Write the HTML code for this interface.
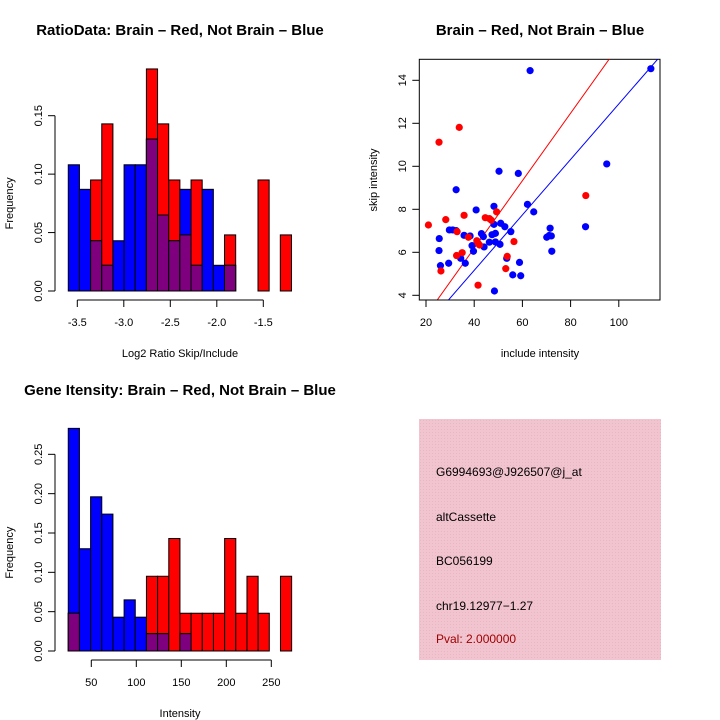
<!DOCTYPE html>
<html><head><meta charset="utf-8">
<style>
html,body{margin:0;padding:0;background:#fff;}
svg{display:block;font-family:"Liberation Sans",Arial,sans-serif;}
</style></head>
<body>
<svg id="chart" width="720" height="720" viewBox="0 0 720 720" xmlns="http://www.w3.org/2000/svg">
<defs>
<pattern id="hatch" width="3" height="3" patternUnits="userSpaceOnUse">
<rect width="3" height="3" fill="#f2c4cf"/>
<rect width="1" height="1" fill="#e6b7c4"/>
</pattern>
</defs>
</svg>
<script>
// ---- Ratio histogram data (frequencies per bin) ----
const ratioBlue = [0.108,0.087,0.043,0.022,0.043,0.108,0.108,0.130,0.065,0.043,0.087,0.022,0.087,0.022,0.022,0,0,0,0,0];
const ratioRed  = [0,0,0.095,0.143,0,0,0,0.190,0.143,0.095,0.048,0.095,0,0,0.048,0,0,0.095,0,0.048];
const ratioBinStart = -3.597, ratioBinWidth = 0.12;
const ratioXTicks = [-3.5,-3.0,-2.5,-2.0,-1.5];
const ratioYTicks = [0,0.05,0.10,0.15];
// ---- Intensity histogram data ----
const intBlue = [0.283,0.130,0.196,0.174,0.043,0.065,0.043,0.022,0.022,0,0.022,0,0,0,0,0,0,0,0,0];
const intRed  = [0.048,0,0,0,0,0,0,0.095,0.095,0.143,0.048,0.048,0.048,0.048,0.143,0.048,0.095,0.048,0,0.095];
const intBinStart = 24.4, intBinWidth = 12.41;
const intXTicks = [50,100,150,200,250];
const intYTicks = [0,0.05,0.10,0.15,0.20,0.25];
// ---- Scatter data ----
const blueX = [63.2,95.0,50.3,58.3,32.5,40.8,48.2,62.1,64.7,86.2,71.5,25.5,25.4,26.0,29.4,29.7,31.1,32.5,35.8,38.3,43.0,43.8,39.1,39.7,44.1,46.3,47.4,48.2,48.8,48.8,50.7,51.0,52.7,55.2,53.5,34.4,36.3,58.8,56.0,59.3,48.4,70.1,71.1,72.0,72.2,113.3];
const blueY = [14.45,10.11,9.77,9.67,8.91,7.97,8.14,8.23,7.88,7.19,7.12,6.64,6.08,5.38,5.49,7.04,7.04,7.01,6.79,6.76,6.87,6.73,6.31,6.05,6.25,6.47,6.82,7.30,6.88,6.48,6.37,7.35,7.19,6.96,5.72,5.72,5.49,5.53,4.95,4.91,4.20,6.70,6.78,6.76,6.05,14.54];
const redX = [25.4,33.8,21.0,28.2,35.8,44.6,46.3,47.1,49.3,32.9,37.6,41.1,41.6,42.2,32.7,35.0,56.5,53.7,53.1,26.2,41.6,86.3];
const redY = [11.12,11.81,7.27,7.52,7.72,7.61,7.57,7.49,7.88,6.96,6.70,6.54,6.42,6.34,5.85,5.98,6.50,5.81,5.24,5.13,4.47,8.64];
const redLine = [-0.09,0.157];   // intercept, slope
const blueLine = [0.0,0.129];
const scXTicks = [20,40,60,80,100];
const scYTicks = [4,6,8,10,12,14];

const svg = document.getElementById('chart');
const NS = 'http://www.w3.org/2000/svg';
function el(tag, attrs, parent){
  const e = document.createElementNS(NS, tag);
  for (const k in attrs) e.setAttribute(k, attrs[k]);
  (parent||svg).appendChild(e);
  return e;
}
function txt(s, attrs, parent){ const t = el('text', attrs, parent); t.textContent = s; return t; }

function histogram(name, blue, red, binStart, binW, xTicks, yTicks, xPx, yPx, y0, axisY, title, titleY, xlab, xlabY, fmtY, fmtX){
  const g = el('g', {});
  
  
  for (let i=0;i<blue.length;i++){
    const xl = xPx(binStart + i*binW), xr = xPx(binStart + (i+1)*binW);
    const b = blue[i], r = red[i];
    const bars = [];
    if (b>0) bars.push({v:b,c:'#0000ff',n:'blue'});
    if (r>0) bars.push({v:r,c:'#ff0000',n:'red'});
    bars.sort((a,c)=>c.v-a.v);
    if (b>0 && r>0) bars.push({v:Math.min(b,r),c:'#7f007f',n:'overlap'});
    bars.forEach(bb=>{
      const rc = el('rect', {x:xl, y:yPx(bb.v), width:xr-xl, height:y0-yPx(bb.v), fill:bb.c, stroke:'#000', 'stroke-width':1}, g);
      
      
    });
  }
  const ya = el('g', {}, g);
  
  
  el('line', {x1:55,x2:55,y1:yPx(yTicks[0]),y2:yPx(yTicks[yTicks.length-1]),stroke:'#000'}, ya);
  yTicks.forEach(t=>{
    el('line',{x1:48,x2:55,y1:yPx(t),y2:yPx(t),stroke:'#000'},ya);
    const lt = txt(fmtY(t), {x:0,y:0,'font-size':11,'text-anchor':'middle',transform:`translate(42,${yPx(t)}) rotate(-90)`}, ya);
    
    
  });
  const xa = el('g', {}, g);
  
  
  el('line', {x1:xPx(xTicks[0]),x2:xPx(xTicks[xTicks.length-1]),y1:axisY,y2:axisY,stroke:'#000'}, xa);
  xTicks.forEach(t=>{
    el('line',{x1:xPx(t),x2:xPx(t),y1:axisY,y2:axisY+7,stroke:'#000'},xa);
    const lt = txt(fmtX(t), {x:xPx(t),y:axisY+26,'font-size':11,'text-anchor':'middle'}, xa);
    
    
  });
  const tt = txt(title, {x:180,y:titleY,'font-size':15,'font-weight':'bold','text-anchor':'middle'}, g);
  
  
  const xl = txt(xlab, {x:180,y:xlabY,'font-size':11,'text-anchor':'middle'}, g);
  
  
  const yl = txt('Frequency', {x:0,y:0,'font-size':11,'text-anchor':'middle',transform:`translate(13,${(y0+yPx(yTicks[yTicks.length-1]))/2}) rotate(-90)`}, g);
  
  
}

const rX = v => 77.3 + (v + 3.5) * 93.0;
const rY = v => 291 - v * 1168.7;
histogram('ratio-histogram', ratioBlue, ratioRed, ratioBinStart, ratioBinWidth, ratioXTicks, ratioYTicks, rX, rY, 291, 300,
  'RatioData: Brain \u2013 Red, Not Brain \u2013 Blue', 35, 'Log2 Ratio Skip/Include', 357,
  v=>v.toFixed(2), v=>v.toFixed(1));

const iX = v => 91.3 + (v - 50) * 0.9;
const iY = v => 651 - v * 786.7;
histogram('intensity-histogram', intBlue, intRed, intBinStart, intBinWidth, intXTicks, intYTicks, iX, iY, 651, 660,
  'Gene Itensity: Brain \u2013 Red, Not Brain \u2013 Blue', 395, 'Intensity', 717,
  v=>v.toFixed(2), v=>String(v));

const sX = v => 426 + (v - 20) * 2.41;
const sY = v => 295.3 - (v - 4) * 21.5;
const sg = el('g', {});


const cp = el('clipPath', {id:'scClip'}, sg);
el('rect', {x:419.3,y:59.3,width:240.7,height:240.7}, cp);
const frame = el('rect', {x:419.3,y:59.3,width:240.7,height:240.7,fill:'none',stroke:'#000'}, sg);


[[redLine,'#ff0000','red-fit-line'],[blueLine,'#0000ff','blue-fit-line']].forEach(([ln,c,n])=>{
  const x1=15,x2=120;
  const l = el('line',{x1:sX(x1),y1:sY(ln[0]+ln[1]*x1),x2:sX(x2),y2:sY(ln[0]+ln[1]*x2),stroke:c,'stroke-width':1,'clip-path':'url(#scClip)'},sg);
  
  
});
blueX.forEach((x,i)=>{
  const p = el('circle',{cx:sX(x),cy:sY(blueY[i]),r:3.6,fill:'#0000ff'},sg);
  
  
});
redX.forEach((x,i)=>{
  const p = el('circle',{cx:sX(x),cy:sY(redY[i]),r:3.6,fill:'#ff0000'},sg);
  
  
});
const sxa = el('g',{},sg);


el('line',{x1:sX(scXTicks[0]),x2:sX(scXTicks[scXTicks.length-1]),y1:300,y2:300,stroke:'#000'},sxa);
scXTicks.forEach(t=>{
  el('line',{x1:sX(t),x2:sX(t),y1:300,y2:307,stroke:'#000'},sxa);
  const lt = txt(String(t),{x:sX(t),y:326,'font-size':11,'text-anchor':'middle'},sxa);
  
  
});
const sya = el('g',{},sg);


scYTicks.forEach(t=>{
  el('line',{x1:412.3,x2:419.3,y1:sY(t),y2:sY(t),stroke:'#000'},sya);
  const lt = txt(String(t),{x:0,y:0,'font-size':11,'text-anchor':'middle',transform:`translate(406,${sY(t)}) rotate(-90)`},sya);
  
  
});
const st = txt('Brain \u2013 Red, Not Brain \u2013 Blue',{x:540,y:35,'font-size':15,'font-weight':'bold','text-anchor':'middle'},sg);


const sxl = txt('include intensity',{x:540,y:357,'font-size':11,'text-anchor':'middle'},sg);


const syl = txt('skip intensity',{x:0,y:0,'font-size':11,'text-anchor':'middle',transform:'translate(377,180) rotate(-90)'},sg);



const ib = el('g',{});


el('rect',{x:419,y:419,width:242,height:241,fill:'url(#hatch)'},ib);
const infoLines = [['G6994693@J926507@j_at',476,'#000'],['altCassette',521,'#000'],['BC056199',565,'#000'],['chr19.12977\u22121.27',610,'#000'],['Pval: 2.000000',643,'#a00000']];
infoLines.forEach(([s,y,c])=>{
  const t = txt(s,{x:436,y:y,'font-size':12,fill:c},ib);
  
  
});
</script>
</body></html>
